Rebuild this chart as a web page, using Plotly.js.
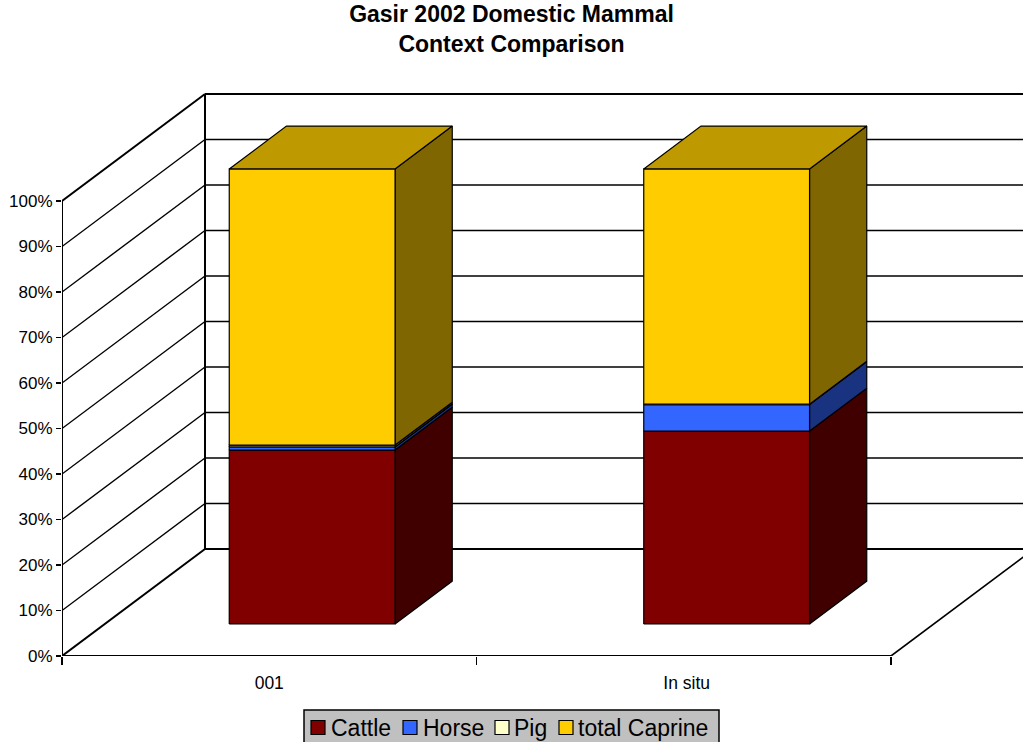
<!DOCTYPE html>
<html>
<head>
<meta charset="utf-8">
<script src="https://cdn.plot.ly/plotly-3.0.1.min.js"></script>
<style>html,body{margin:0;padding:0;background:#fff;overflow:hidden}</style>
</head>
<body>
<div id="chart" style="width:1023px;height:742px"></div>
<script>
// Share of each domestic mammal per context, in percent
const categories = ['001', 'In situ'];
const seriesNames = ['Cattle', 'Horse', 'Pig', 'total Caprine'];
const cattle = [38.2, 42.4];
const horse = [0.7, 5.8];
const pig = [0.4, 0.1];
const caprine = [60.7, 51.7];
const valueTicks = [0, 10, 20, 30, 40, 50, 60, 70, 80, 90, 100];

const frontColors = ['#800000', '#3366FF', '#FFFFCC', '#FFCC00'];
const sideColors = ['#400000', '#1A3380', '#808066', '#806600'];
const topColor = '#BF9900';
const allSeries = [cattle, horse, pig, caprine];

// Oblique projection: depth d (0 front, 1 back) shifts a point along both axes
const depthX = 143 / 414.5;
const depthY = 107 / 4.55;
const barWidth = 0.4;
const barNear = 0.3;
const barFar = 0.7;
const px = (c, d) => c + d * depthX;
const py = (v, d) => v + d * depthY;

const traces = [];

function linePath(points, width) {
  traces.push({
    type: 'scatter', mode: 'lines', showlegend: false, hoverinfo: 'skip', cliponaxis: true,
    x: points.map(p => px(p[0], p[1])),
    y: points.map(p => py(p[2], p[1])),
    line: {color: '#000', width: width}
  });
}

// Walls and floor
const nCat = categories.length;
valueTicks.forEach(v => {
  const edge = v === 0 || v === 100;
  linePath([[0, 0, v], [0, 1, v]], edge ? 2 : 1.4);
  linePath([[0, 1, v], [nCat + 1, 1, v]], edge ? 2 : 1.4);
});
linePath([[0, 1, 0], [0, 1, 100]], 2);
linePath([[nCat, 0, 0], [nCat, 1, 0]], 1.6);
linePath([[0, 0, 0], [nCat, 0, 0]], 2);

function polygonTrace(name, color, faces) {
  const xs = [], ys = [];
  faces.forEach(f => {
    f.forEach(p => { xs.push(px(p[0], p[1])); ys.push(py(p[2], p[1])); });
    xs.push(null); ys.push(null);
  });
  traces.push({
    type: 'scatter', mode: 'lines', fill: 'toself', fillcolor: color, name: name,
    showlegend: false, hoverinfo: 'name', x: xs, y: ys,
    line: {color: '#000', width: 1.2}
  });
}

// Stacked bars: one side-face and one front-face trace per series
seriesNames.forEach((name, s) => {
  const sides = [], fronts = [];
  categories.forEach((cat, i) => {
    let base = 0;
    for (let k = 0; k < s; k++) base += allSeries[k][i];
    const end = base + allSeries[s][i];
    const l = i + 0.5 - barWidth / 2, r = i + 0.5 + barWidth / 2;
    fronts.push([[l, barNear, base], [r, barNear, base], [r, barNear, end], [l, barNear, end], [l, barNear, base]]);
    sides.push([[r, barNear, base], [r, barFar, base], [r, barFar, end], [r, barNear, end], [r, barNear, base]]);
  });
  polygonTrace(name + ' side', sideColors[s], sides);
  polygonTrace(name, frontColors[s], fronts);
});

// Top caps of the full stacks
const caps = categories.map((cat, i) => {
  const h = allSeries.reduce((sum, arr) => sum + arr[i], 0);
  const l = i + 0.5 - barWidth / 2, r = i + 0.5 + barWidth / 2;
  return [[l, barNear, h], [r, barNear, h], [r, barFar, h], [l, barFar, h], [l, barNear, h]];
});
polygonTrace('top', topColor, caps);

// Frame geometry in pixels
const W = 1023, H = 742, plotLeft = 62, plotBottom = 656, plotTop = 80;
const plotW = W - plotLeft, plotH = plotBottom - plotTop;
const catPx = 414.5, valPx = 4.55;
const paperX = x => (x - plotLeft) / plotW;
const paperY = y => (plotBottom - y) / plotH;

// Legend panel, clipped by the lower page edge
const legendSwatchX = [311, 403, 495, 559];
const legendTextX = [331, 423, 514, 578];
const legendTop = 710, swatch = 14, swatchMid = 727.5, legendMid = 728;
const shapes = [{
  type: 'rect', xref: 'paper', yref: 'paper',
  x0: paperX(304), x1: paperX(719), y0: paperY(760), y1: paperY(legendTop),
  fillcolor: '#C0C0C0', line: {color: '#000', width: 1.5}
}];
seriesNames.forEach((n, i) => shapes.push({
  type: 'rect', xref: 'paper', yref: 'paper',
  x0: paperX(legendSwatchX[i]), x1: paperX(legendSwatchX[i] + swatch),
  y0: paperY(swatchMid + swatch / 2), y1: paperY(swatchMid - swatch / 2),
  fillcolor: frontColors[i], line: {color: '#000', width: 1.2}
}));
const annotations = seriesNames.map((n, i) => ({
  text: n, showarrow: false, xref: 'paper', yref: 'paper',
  x: paperX(legendTextX[i]), y: paperY(legendMid), xanchor: 'left', yanchor: 'middle',
  xshift: -2, font: {family: 'Liberation Sans, Arial, sans-serif', size: 23, color: '#000'}
}));

// Axis line up the front-left edge is part of the wall drawing
linePath([[0, 0, 0], [0, 0, 100]], 2);

const layout = {
  width: W, height: H,
  paper_bgcolor: '#fff', plot_bgcolor: '#fff',
  margin: {l: plotLeft, r: 0, t: plotTop, b: H - plotBottom, pad: 0},
  showlegend: false,
  title: {
    text: 'Gasir 2002 Domestic Mammal<br>Context Comparison',
    x: 0.5, xref: 'container', xanchor: 'center',
    y: 0.97, yref: 'container', yanchor: 'top',
    font: {family: 'Liberation Sans, Arial, sans-serif', size: 23, weight: 700, color: '#000'}
  },
  xaxis: {
    range: [0, plotW / catPx], showgrid: false, zeroline: false, showline: false,
    tickmode: 'array', tickvals: [0.5, 1.507], ticktext: categories,
    ticks: '', ticklabelstandoff: 14,
    tickfont: {family: 'Liberation Sans, Arial, sans-serif', size: 17.5, color: '#000'},
    minor: {tickmode: 'array', tickvals: [0, 1, 2], ticks: 'outside', ticklen: 8, tickwidth: 1.5, tickcolor: '#000', showgrid: false}
  },
  yaxis: {
    range: [0, plotH / valPx], showgrid: false, zeroline: false, showline: false,
    tickmode: 'array', tickvals: valueTicks, ticktext: valueTicks.map(v => v + '%'),
    ticks: 'outside', ticklen: 5, tickwidth: 1.5, tickcolor: '#000',
    tickfont: {family: 'Liberation Sans, Arial, sans-serif', size: 17, color: '#000'}
  },
  shapes: shapes,
  annotations: annotations
};

Plotly.newPlot('chart', traces, layout, {displayModeBar: false, staticPlot: true});
</script>
</body>
</html>
